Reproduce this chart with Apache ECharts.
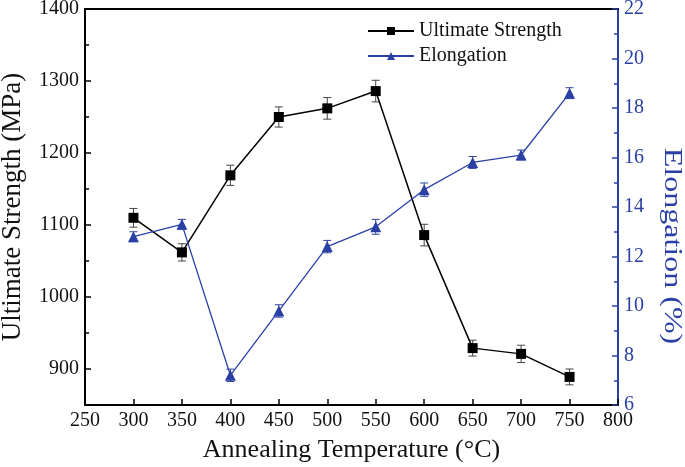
<!DOCTYPE html>
<html><head><meta charset="utf-8">
<script src="https://cdn.jsdelivr.net/npm/echarts@6/dist/echarts.min.js"></script>
<style>html,body{margin:0;padding:0;background:#fff}#c{width:685px;height:467px}</style>
</head><body><div id="c"></div>
<script>
var temps = [300, 350, 400, 450, 500, 550, 600, 650, 700, 750];
var strength = [1110, 1062, 1169, 1250, 1262, 1286, 1086, 929, 921, 889];
var strengthErr = [13, 12, 14, 14, 15, 15, 15, 11, 12, 11];
var elong = [12.8, 13.3, 7.2, 9.8, 12.4, 13.2, 14.7, 15.8, 16.1, 18.6];
var elongErr = [0.2, 0.2, 0.25, 0.25, 0.25, 0.3, 0.27, 0.24, 0.2, 0.22];
var strengthLabels = [900, 1000, 1100, 1200, 1300, 1400];
var strengthMinor = [950, 1050, 1150, 1250, 1350];

var FONT = 'Liberation Serif';
var BLUE = '#2b40a5';
var plain = function (v) { return String(v); };

function errData(vals, errs) {
  return temps.map(function (t, i) { return [t, vals[i] - errs[i], vals[i] + errs[i]]; });
}
function errRender(color) {
  return function (params, api) {
    var x = api.value(0);
    var lo = api.coord([x, api.value(1)]);
    var hi = api.coord([x, api.value(2)]);
    var w = 4;
    var st = { stroke: color, lineWidth: 1 };
    return { type: 'group', children: [
      { type: 'line', shape: { x1: lo[0], y1: lo[1], x2: hi[0], y2: hi[1] }, style: st },
      { type: 'line', shape: { x1: lo[0] - w, y1: lo[1], x2: lo[0] + w, y2: lo[1] }, style: st },
      { type: 'line', shape: { x1: hi[0] - w, y1: hi[1], x2: hi[0] + w, y2: hi[1] }, style: st }
    ]};
  };
}

var chart = echarts.init(document.getElementById('c'), null, { renderer: 'canvas' });
chart.setOption({
  animation: false,
  backgroundColor: '#fff',
  textStyle: { fontFamily: FONT },
  grid: { left: 85, right: 67, top: 9, bottom: 62, containLabel: false, outerBoundsMode: 'none' },
  legend: {
    orient: 'vertical', left: 367, top: 21, padding: 0, itemGap: 5, itemWidth: 46, itemHeight: 10,
    textStyle: { fontFamily: FONT, fontSize: 20, color: '#111' },
    data: ['Ultimate Strength', 'Elongation']
  },
  graphic: [{
    type: 'text', x: 672, y: 246, rotation: -Math.PI / 2, scaleX: 1.28,
    style: { text: 'Elongation (%)', fill: BLUE, font: '25px "Liberation Serif"', textAlign: 'center', textVerticalAlign: 'middle' }
  }],
  xAxis: [{
    type: 'value', min: 250, max: 800, interval: 50,
    name: 'Annealing Temperature (\u00B0C)', nameLocation: 'middle', nameGap: 32,
    nameTextStyle: { fontFamily: FONT, fontSize: 26, color: '#111' },
    axisLine: { lineStyle: { color: '#000', width: 2 } },
    axisTick: { inside: true, length: 6, lineStyle: { color: '#000', width: 1.5 } },
    axisLabel: { fontFamily: FONT, fontSize: 20, color: '#111', margin: 6, formatter: plain },
    splitLine: { show: false }
  }, {
    type: 'value', min: 250, max: 800, position: 'top',
    axisLine: { show: true, lineStyle: { color: '#000', width: 2 } },
    axisTick: { show: false }, axisLabel: { show: false }, splitLine: { show: false }
  }],
  yAxis: [{
    type: 'value', min: 850, max: 1400, interval: 50, position: 'left',
    name: 'Ultimate Strength (MPa)', nameLocation: 'middle', nameGap: 59,
    nameTextStyle: { fontFamily: FONT, fontSize: 27, color: '#111' },
    axisLine: { show: true, lineStyle: { color: '#000', width: 2 } },
    axisTick: { inside: true, length: 6, customValues: strengthLabels, lineStyle: { color: '#000', width: 1.5 } },
    axisLabel: { fontFamily: FONT, fontSize: 20, color: '#111', margin: 6, customValues: strengthLabels, formatter: plain },
    splitLine: { show: false }
  }, {
    type: 'value', min: 6, max: 22, interval: 2, position: 'right',
    axisLine: { show: true, lineStyle: { color: BLUE, width: 2 } },
    axisTick: { inside: true, length: 6, lineStyle: { color: BLUE, width: 1.5 } },
    minorTick: { show: true, splitNumber: 2, length: 4, lineStyle: { color: BLUE, width: 1.5 } },
    axisLabel: { fontFamily: FONT, fontSize: 20, color: BLUE, margin: 6, formatter: plain },
    splitLine: { show: false }, minorSplitLine: { show: false }
  }, {
    type: 'value', min: 850, max: 1400, position: 'left',
    axisLine: { show: false },
    axisTick: { show: true, inside: true, length: 4, customValues: strengthMinor, lineStyle: { color: '#000', width: 1.5 } },
    axisLabel: { show: false }, splitLine: { show: false }
  }],
  series: [{
    name: 'Ultimate Strength', type: 'line', xAxisIndex: 0, yAxisIndex: 0,
    data: temps.map(function (t, i) { return [t, strength[i]]; }),
    symbol: 'rect', symbolSize: 10, color: '#000',
    lineStyle: { color: '#000', width: 1.5 }, itemStyle: { color: '#000' }, z: 3
  }, {
    name: 'Elongation', type: 'line', xAxisIndex: 0, yAxisIndex: 1,
    data: temps.map(function (t, i) { return [t, elong[i]]; }),
    symbol: 'triangle', symbolSize: 11, color: BLUE,
    lineStyle: { color: BLUE, width: 1.3 }, itemStyle: { color: BLUE }, z: 3
  }, {
    type: 'custom', xAxisIndex: 0, yAxisIndex: 0, data: errData(strength, strengthErr),
    renderItem: errRender('#444'), encode: { x: 0, y: [1, 2] }, z: 2, silent: true
  }, {
    type: 'custom', xAxisIndex: 0, yAxisIndex: 1, data: errData(elong, elongErr),
    renderItem: errRender(BLUE), encode: { x: 0, y: [1, 2] }, z: 2, silent: true
  }]
});
</script></body></html>
